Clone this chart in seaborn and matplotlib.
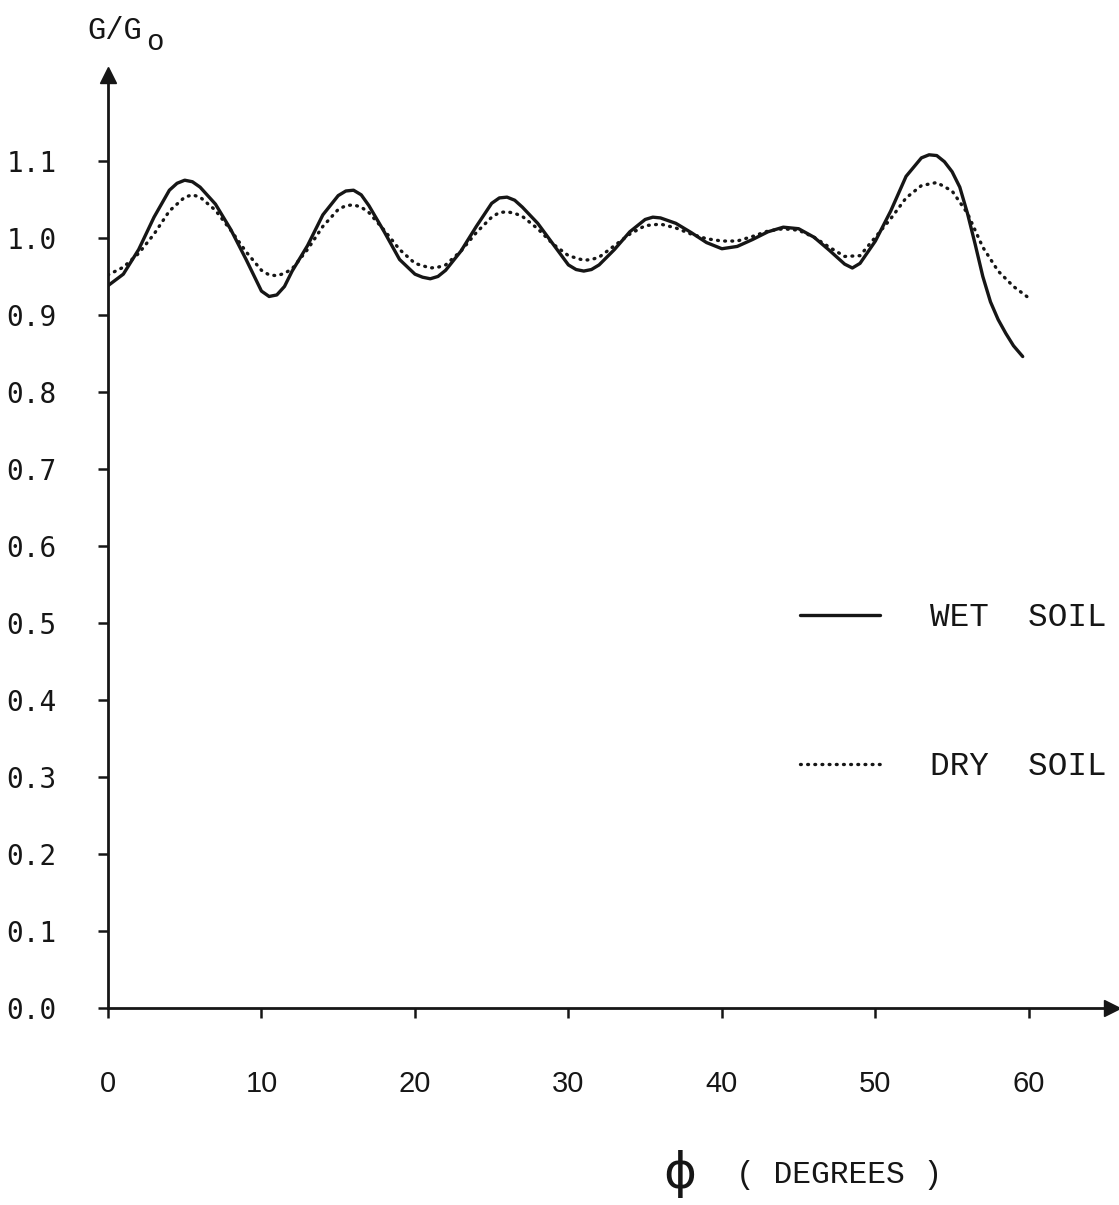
import numpy as np
import pandas as pd
import matplotlib
matplotlib.use("Agg")
import matplotlib.pyplot as plt
import seaborn as sns

# Relative gain G/Go against angle phi (degrees) for two soil conditions
wet_deg = [0, 1, 2, 3, 4, 4.5, 5, 5.5, 6, 7, 8, 9, 10, 10.5, 11, 11.5, 12, 13,
           14, 15, 15.5, 16, 16.5, 17, 18, 19, 20, 20.5, 21, 21.5, 22, 23, 24,
           25, 25.5, 26, 26.5, 27, 28, 29, 30, 30.5, 31, 31.5, 32, 33, 34, 35,
           35.5, 36, 37, 38, 39, 40, 41, 42, 43, 44, 45, 46, 47, 48, 48.5, 49,
           50, 51, 52, 53, 53.5, 54, 54.5, 55, 55.5, 56, 56.5, 57, 57.5, 58,
           58.5, 59, 59.6]
wet_gain = [0.938, 0.953, 0.985, 1.027, 1.062, 1.071, 1.075, 1.073, 1.066,
            1.044, 1.011, 0.972, 0.931, 0.924, 0.926, 0.937, 0.957, 0.990,
            1.030, 1.055, 1.061, 1.062, 1.056, 1.042, 1.008, 0.972, 0.953,
            0.949, 0.947, 0.950, 0.958, 0.983, 1.015, 1.045, 1.052, 1.053,
            1.049, 1.040, 1.019, 0.992, 0.965, 0.959, 0.957, 0.959, 0.965,
            0.985, 1.008, 1.024, 1.027, 1.026, 1.019, 1.007, 0.994, 0.986,
            0.989, 0.998, 1.008, 1.014, 1.012, 1.001, 0.984, 0.966, 0.961,
            0.967, 0.996, 1.035, 1.080, 1.104, 1.108, 1.107, 1.099, 1.086,
            1.066, 1.032, 0.992, 0.950, 0.917, 0.894, 0.876, 0.860, 0.846]

dry_deg = [0, 1, 2, 3, 4, 5, 5.5, 6, 7, 8, 9, 10, 10.5, 11, 11.5, 12, 13, 14,
           15, 15.5, 16, 16.5, 17, 18, 19, 20, 21, 21.5, 22, 23, 24, 25, 25.5,
           26, 26.5, 27, 28, 29, 30, 31, 31.5, 32, 33, 34, 35, 36, 37, 38, 39,
           40, 41, 42, 43, 44, 45, 46, 47, 48, 49, 50, 51, 52, 53, 54, 55, 56,
           57, 58, 59, 60]
dry_gain = [0.952, 0.962, 0.980, 1.005, 1.035, 1.053, 1.056, 1.053, 1.036,
            1.010, 0.982, 0.958, 0.952, 0.951, 0.954, 0.960, 0.985, 1.015,
            1.037, 1.042, 1.043, 1.040, 1.033, 1.010, 0.985, 0.967, 0.961,
            0.962, 0.965, 0.983, 1.007, 1.027, 1.033, 1.034, 1.032, 1.028,
            1.012, 0.992, 0.977, 0.971, 0.972, 0.975, 0.990, 1.005, 1.016,
            1.018, 1.013, 1.005, 0.999, 0.996, 0.996, 1.002, 1.009, 1.012,
            1.010, 1.001, 0.988, 0.976, 0.977, 1.001, 1.025, 1.052, 1.068,
            1.072, 1.061, 1.032, 0.988, 0.957, 0.937, 0.922]

x_ticks = [0, 10, 20, 30, 40, 50, 60]
x_tick_labels = ["0", "10", "20", "30", "40", "50", "60"]
y_ticks = [0.0, 0.1, 0.2, 0.3, 0.4, 0.5, 0.6, 0.7, 0.8, 0.9, 1.0, 1.1]
y_tick_labels = ["0.0", "0.1", "0.2", "0.3", "0.4", "0.5", "0.6", "0.7",
                 "0.8", "0.9", "1.0", "1.1"]

series_names = ["WET  SOIL", "DRY  SOIL"]

df = pd.concat([
    pd.DataFrame({"phi": wet_deg, "gain": wet_gain, "soil": series_names[0]}),
    pd.DataFrame({"phi": dry_deg, "gain": dry_gain, "soil": series_names[1]}),
], ignore_index=True)

sns.set_style("ticks")
ink = "#161616"

fig = plt.figure(figsize=(11.19, 12.05), dpi=100)
ax = fig.add_axes([0.0965, 0.1635, 0.897, 0.7745])

sns.lineplot(data=df, x="phi", y="gain", hue="soil", style="soil",
             palette={series_names[0]: ink, series_names[1]: ink},
             dashes={series_names[0]: "", series_names[1]: (0.25, 1.9)},
             linewidth=2.4, sort=False, estimator=None, ax=ax, legend=True)
for ln in ax.get_lines():
    ln.set_dash_capstyle("round")
    ln.set_solid_joinstyle("round")

ax.set_xlim(0, 65.4)
ax.set_ylim(0, 1.212)

for s in ["top", "right"]:
    ax.spines[s].set_visible(False)
for s in ["left", "bottom"]:
    ax.spines[s].set_linewidth(2.0)
    ax.spines[s].set_color(ink)

# arrowheads at the ends of both axes
ax.plot(1, 0, marker=">", color=ink, markersize=11, transform=ax.transAxes,
        clip_on=False)
ax.plot(0, 1, marker="^", color=ink, markersize=11, transform=ax.transAxes,
        clip_on=False)

ax.set_xticks(x_ticks)
ax.set_xticklabels(x_tick_labels, fontfamily="Liberation Sans", fontsize=21,
                   color=ink)
ax.set_yticks(y_ticks)
ax.set_yticklabels(y_tick_labels, fontfamily="DejaVu Sans Mono", fontsize=20,
                   color=ink)
ax.tick_params(axis="x", direction="out", length=7, width=1.8, pad=38,
               color=ink)
ax.tick_params(axis="y", direction="out", length=7, width=1.8, pad=30,
               color=ink)
ax.set_xlabel("")
ax.set_ylabel("")

# axis titles
fig.text(87 / 1119, 1 - 39 / 1205, "G/G", fontfamily="Liberation Mono",
         fontsize=22, color=ink, ha="left", va="baseline")
fig.text(146 / 1119, 1 - 50 / 1205, "o", fontfamily="Liberation Mono",
         fontsize=21, color=ink, ha="left", va="baseline")
fig.text(680 / 1119, 1 - 1174 / 1205, "ϕ", fontfamily="DejaVu Sans",
         fontsize=36, color=ink, ha="center", va="center")
fig.text(736 / 1119, 1 - 1175 / 1205, "( DEGREES )",
         fontfamily="Liberation Mono", fontsize=22.5, color=ink,
         ha="left", va="center")

leg = ax.legend(loc="upper left", bbox_to_anchor=(0.66, 0.466), frameon=False,
                handlelength=2.45, handletextpad=1.55, labelspacing=3.6,
                prop={"family": "Liberation Mono", "size": 23.5})
for t in leg.get_texts():
    t.set_color(ink)
for h in leg.get_lines():
    h.set_dash_capstyle("round")

fig.savefig("out.png", dpi=100, facecolor="white")
